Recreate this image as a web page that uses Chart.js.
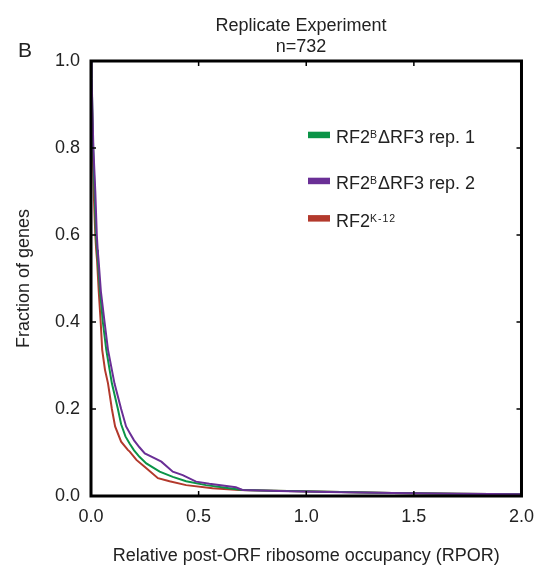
<!DOCTYPE html>
<html><head><meta charset="utf-8">
<script src="https://cdn.jsdelivr.net/npm/chart.js@4.4.0/dist/chart.umd.min.js"></script>
<style>html,body{margin:0;padding:0;background:#fff;} canvas{display:block;}</style>
</head><body>
<canvas id="c" width="544" height="567"></canvas>
<script>
// ---- text ----
const titleLines = ["Replicate Experiment", "n=732"];
const panelLabel = "B";
const xTitle = "Relative post-ORF ribosome occupancy (RPOR)";
const yTitle = "Fraction of genes";
const xTicks = [0, 0.5, 1.0, 1.5, 2.0];
const yTicks = [0, 0.2, 0.4, 0.6, 0.8, 1.0];

// ---- series (RPOR value, fraction of genes) ----
const rep1X = [0, 0.003, 0.010, 0.018, 0.023, 0.028, 0.032, 0.042, 0.055, 0.071, 0.097, 0.125, 0.140, 0.160, 0.180, 0.200, 0.225, 0.257, 0.319, 0.380, 0.442, 0.534, 0.642, 0.704, 0.850, 1.100, 1.400, 1.700, 2.000];
const rep1Y = [1.0, 0.96, 0.80, 0.68, 0.60, 0.566, 0.54, 0.47, 0.40, 0.336, 0.259, 0.200, 0.165, 0.137, 0.120, 0.105, 0.090, 0.075, 0.056, 0.044, 0.034, 0.025, 0.018, 0.014, 0.012, 0.010, 0.007, 0.005, 0.004];

const rep2X = [0, 0.003, 0.011, 0.020, 0.027, 0.031, 0.035, 0.046, 0.063, 0.079, 0.109, 0.140, 0.163, 0.180, 0.200, 0.225, 0.250, 0.290, 0.327, 0.380, 0.426, 0.488, 0.550, 0.673, 0.704, 0.873, 1.100, 1.400, 1.700, 2.000];
const rep2Y = [1.0, 0.96, 0.80, 0.70, 0.60, 0.566, 0.543, 0.47, 0.40, 0.336, 0.259, 0.200, 0.160, 0.145, 0.128, 0.112, 0.098, 0.088, 0.079, 0.056, 0.048, 0.033, 0.028, 0.020, 0.014, 0.0115, 0.009, 0.007, 0.005, 0.004];

const k12X = [0, 0.002, 0.008, 0.014, 0.020, 0.024, 0.028, 0.036, 0.045, 0.052, 0.065, 0.079, 0.097, 0.112, 0.140, 0.171, 0.180, 0.211, 0.249, 0.311, 0.365, 0.442, 0.565, 0.688, 0.850, 1.100, 1.400, 1.700, 2.000];
const k12Y = [1.0, 0.97, 0.80, 0.68, 0.60, 0.566, 0.543, 0.47, 0.40, 0.336, 0.29, 0.259, 0.200, 0.160, 0.125, 0.106, 0.102, 0.083, 0.067, 0.041, 0.034, 0.025, 0.018, 0.014, 0.012, 0.010, 0.007, 0.005, 0.004];

// legend labels: [text, isSuperscript]
const legendLabels = [
  [["RF2", false], ["B", true], ["\u0394RF3 rep. 1", false]],
  [["RF2", false], ["B", true], ["\u0394RF3 rep. 2", false]],
  [["RF2", false], ["K-12", true]]
];
const seriesColors = ["#0b9447", "#6a2f96", "#b3392c"];

const toPts = (xs, ys) => xs.map((x, i) => ({x: x, y: ys[i]}));
const FONT = "'Liberation Sans', Arial, Helvetica, sans-serif";
const TXT = "#222";

const framePlugin = {
  id: 'frame',
  afterDatasetsDraw(chart) {
    const {ctx, chartArea: a, scales} = chart;
    ctx.save();
    ctx.strokeStyle = "#000";
    ctx.lineWidth = 1.5;
    const L = 5;
    xTicks.slice(1, -1).forEach(v => {
      const px = scales.x.getPixelForValue(v);
      ctx.beginPath();
      ctx.moveTo(px, a.top); ctx.lineTo(px, a.top + L);
      ctx.moveTo(px, a.bottom); ctx.lineTo(px, a.bottom - L);
      ctx.stroke();
    });
    yTicks.slice(1, -1).forEach(v => {
      const py = scales.y.getPixelForValue(v);
      ctx.beginPath();
      ctx.moveTo(a.left, py); ctx.lineTo(a.left + L, py);
      ctx.moveTo(a.right, py); ctx.lineTo(a.right - L, py);
      ctx.stroke();
    });
    ctx.lineWidth = 3;
    ctx.strokeRect(a.left, a.top, a.right - a.left, a.bottom - a.top);
    ctx.restore();
  },
  afterDraw(chart) {
    const {ctx} = chart;
    ctx.save();
    ctx.fillStyle = TXT;
    ctx.textAlign = "center";
    ctx.textBaseline = "alphabetic";
    ctx.font = "18px " + FONT;
    const cx = 301;
    ctx.fillText(titleLines[0], cx, 30.5);
    ctx.fillText(titleLines[1], cx, 52);
    ctx.textAlign = "left";
    ctx.font = "21px " + FONT;
    ctx.fillText(panelLabel, 18, 57);
    // legend
    const rowsY = [143.3, 189.3, 226.7];
    legendLabels.forEach((parts, i) => {
      const base = rowsY[i];
      ctx.fillStyle = seriesColors[i];
      ctx.fillRect(308, base - 11.6, 22, 6.5);
      let x = 336;
      parts.forEach(([t, sup]) => {
        ctx.fillStyle = TXT;
        if (sup) {
          ctx.font = "10.5px " + FONT;
          ctx.letterSpacing = "1px";
          ctx.fillText(t, x, base - 5);
          x += ctx.measureText(t).width;
          ctx.letterSpacing = "0px";
        } else {
          ctx.font = "18px " + FONT;
          ctx.fillText(t, x, base);
          x += ctx.measureText(t).width;
        }
      });
    });
    ctx.restore();
  }
};

new Chart(document.getElementById("c"), {
  type: "scatter",
  data: {
    datasets: [
      {label: "rep2", data: toPts(rep2X, rep2Y), borderColor: seriesColors[1], order: 0},
      {label: "rep1", data: toPts(rep1X, rep1Y), borderColor: seriesColors[0], order: 1},
      {label: "K-12", data: toPts(k12X, k12Y), borderColor: seriesColors[2], order: 2}
    ].map(d => Object.assign(d, {showLine: true, pointRadius: 0, borderWidth: 2, fill: false, tension: 0}))
  },
  options: {
    responsive: false,
    devicePixelRatio: 1,
    animation: false,
    layout: {padding: {top: 61, right: 20, left: 0, bottom: 0}},
    plugins: {legend: {display: false}, tooltip: {enabled: false}, title: {display: false}},
    scales: {
      x: {
        type: "linear", min: 0, max: 2,
        afterFit(s) { s.height = 71; },
        afterBuildTicks(s) { s.ticks = xTicks.map(v => ({value: v})); },
        ticks: {padding: 10, color: TXT, font: {family: FONT, size: 18}, callback: v => v.toFixed(1), maxRotation: 0},
        grid: {display: false, drawTicks: false},
        border: {display: false},
        title: {display: true, text: xTitle, color: TXT, font: {family: FONT, size: 18}, padding: {top: 0, bottom: 0}}
      },
      y: {
        type: "linear", min: 0, max: 1,
        afterFit(s) { s.width = 91; },
        afterBuildTicks(s) { s.ticks = yTicks.map(v => ({value: v})); },
        ticks: {padding: 11, color: TXT, font: {family: FONT, size: 18}, callback: v => v.toFixed(1)},
        grid: {display: false, drawTicks: false},
        border: {display: false},
        title: {display: true, text: yTitle, color: TXT, font: {family: FONT, size: 18}, padding: {top: 13, bottom: 0}}
      }
    }
  },
  plugins: [framePlugin]
});
</script>
</body></html>
